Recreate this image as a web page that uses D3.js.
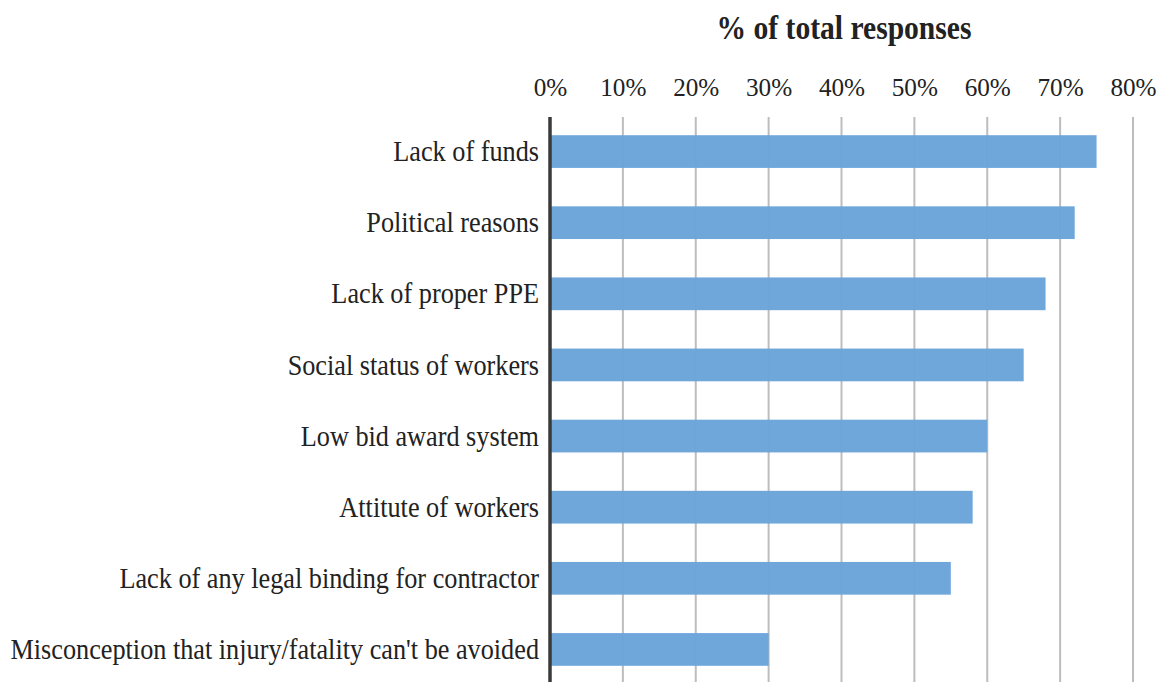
<!DOCTYPE html>
<html>
<head>
<meta charset="utf-8">
<script src="https://cdn.jsdelivr.net/npm/d3@7"></script>
<style>
  html, body { margin: 0; padding: 0; background: #fff; }
  svg { display: block; }
  text { font-family: "Liberation Serif", "Times New Roman", serif; fill: #222; }
</style>
</head>
<body>
<svg id="chart" width="1162" height="682"></svg>
<script>
// Reasons cited, top to bottom
const categories = [
  "Lack of funds",
  "Political reasons",
  "Lack of proper PPE",
  "Social status of workers",
  "Low bid award system",
  "Attitute of workers",
  "Lack of any legal binding for contractor",
  "Misconception that injury/fatality can't be avoided"
];
// Share of total responses (%)
const values = [75, 72, 68, 65, 60, 58, 55, 30];
const ticks = [0, 10, 20, 30, 40, 50, 60, 70, 80];
const titleText = "% of total responses";

const svg = d3.select("#chart");
const margin = { left: 550, right: 29, top: 116 };
const plotBottom = 685;
const labelSquash = 0.875; // narrow serif labels

const x = d3.scaleLinear().domain([0, 80]).range([margin.left, 1162 - margin.right]);
const y = d3.scaleBand().domain(categories).range([margin.top, plotBottom]).paddingInner(0.54).paddingOuter(0.27);

// Vertical gridlines
svg.append("g").selectAll("line").data(ticks.slice(1)).join("line")
  .attr("x1", d => x(d)).attr("x2", d => x(d))
  .attr("y1", margin.top + 1).attr("y2", plotBottom)
  .attr("stroke", "#bdbdbd").attr("stroke-width", 2);

// Bars
svg.append("g").selectAll("rect").data(values).join("rect")
  .attr("x", x(0))
  .attr("y", (d, i) => y(categories[i]))
  .attr("width", d => x(d) - x(0))
  .attr("height", y.bandwidth())
  .attr("fill", "#6aa4da")
  .attr("fill-opacity", 0.97);

// Top axis with percentage labels
const xAxis = d3.axisTop(x).tickValues(ticks).tickFormat(d => d + "%").tickSize(0).tickPadding(0);
const gx = svg.append("g").attr("transform", `translate(0, 96)`).call(xAxis);
gx.select(".domain").remove();
gx.selectAll("text").attr("font-size", 26).attr("dy", 0)
  .style("font-family", '"Liberation Serif", serif').attr("fill", "#222")
  .attr("transform", "scale(0.97,1)");

// Category labels
const yAxis = d3.axisLeft(y).tickSize(0).tickPadding(11);
const gy = svg.append("g").attr("transform", `translate(${x(0)}, 0)`).call(yAxis);
gy.select(".domain").remove();
gy.selectAll("text").attr("font-size", 30)
  .style("font-family", '"Liberation Serif", serif').attr("fill", "#222")
  .attr("x", -11 / labelSquash)
  .attr("transform", `scale(${labelSquash},1)`);

// Baseline at 0%
svg.append("line")
  .attr("x1", x(0)).attr("x2", x(0))
  .attr("y1", margin.top + 1).attr("y2", plotBottom)
  .attr("stroke", "#3a3a3a").attr("stroke-width", 3.5);

// Axis title
svg.append("text")
  .attr("transform", "translate(844,39) scale(0.87,1)")
  .attr("text-anchor", "middle")
  .attr("font-size", 34).attr("font-weight", "bold")
  .text(titleText);
</script>
</body>
</html>
